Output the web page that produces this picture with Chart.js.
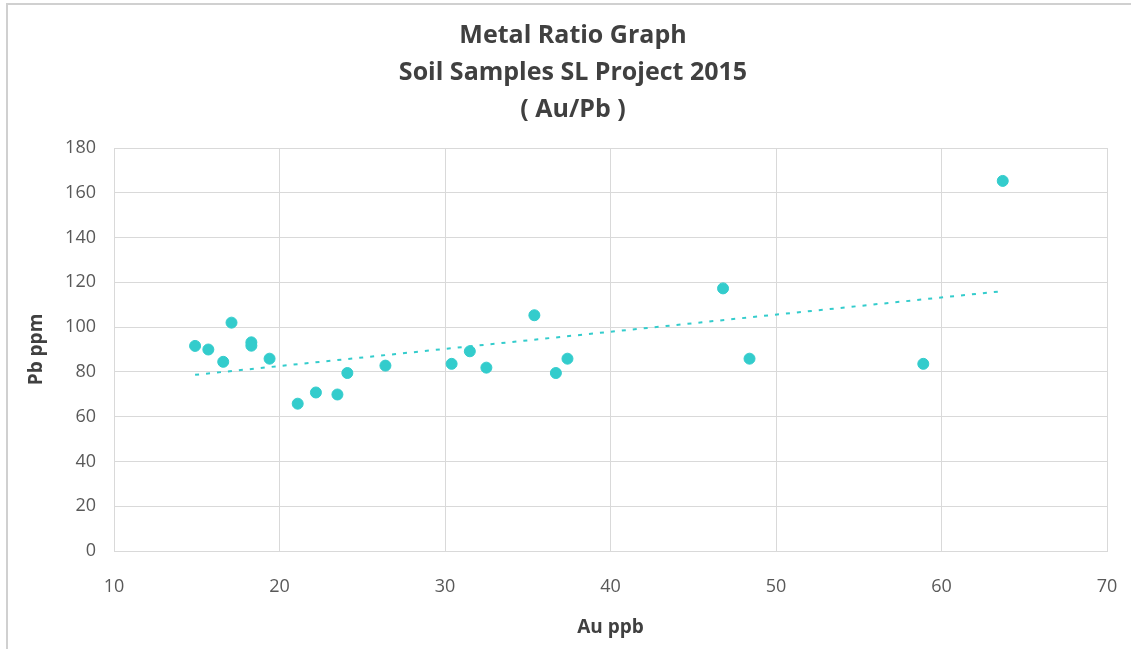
<!DOCTYPE html>
<html>
<head>
<meta charset="utf-8">
<title>Metal Ratio Graph</title>
<script src="https://cdn.jsdelivr.net/npm/chart.js@4.4.1/dist/chart.umd.min.js"></script>
<style>
    html, body { margin: 0; padding: 0; background: #fff; overflow: hidden; }
    #frame {
        position: absolute; left: 6px; top: 3px;
        width: 1140px; height: 660px;
        border: 2px solid #d0d0d0;
    }
    #chart { position: absolute; left: 0; top: 0; }
</style>
</head>
<body>
<div id="frame"></div>
<canvas id="chart" width="1131" height="649"></canvas>
<script>
// soil sample assays
var auPpb = [14.9, 15.7, 16.6, 17.1, 18.3, 18.3, 19.4, 21.1, 22.2, 23.5, 24.1,
             26.4, 30.4, 31.5, 32.5, 35.4, 36.7, 37.4, 46.8, 48.4, 58.9, 63.7];
var pbPpm = [91.6, 90.0, 84.5, 102.0, 93.2, 91.7, 85.9, 65.8, 70.8, 69.9, 79.5,
             82.8, 83.6, 89.2, 81.9, 105.3, 79.5, 85.9, 117.3, 85.9, 83.6, 165.3];

var titleLines = ['Metal Ratio Graph', 'Soil Samples SL Project 2015', '( Au/Pb )'];
var xTicks = [10, 20, 30, 40, 50, 60, 70];
var yTicks = [0, 20, 40, 60, 80, 100, 120, 140, 160, 180];

var teal = '#33CCCC';
var gridColor = '#d9d9d9';

var points = auPpb.map(function (x, i) { return { x: x, y: pbPpm[i] }; });

// least squares trend line over the sampled range
function linearTrend(xs, ys) {
    var n = xs.length, sx = 0, sy = 0, sxy = 0, sxx = 0;
    for (var i = 0; i < n; i++) {
        sx += xs[i]; sy += ys[i];
        sxy += xs[i] * ys[i]; sxx += xs[i] * xs[i];
    }
    var slope = (n * sxy - sx * sy) / (n * sxx - sx * sx);
    var icpt = (sy - slope * sx) / n;
    var lo = Math.min.apply(null, xs), hi = Math.max.apply(null, xs);
    return [{ x: lo, y: icpt + slope * lo }, { x: hi, y: icpt + slope * hi }];
}

var trend = linearTrend(auPpb, pbPpm);

new Chart(document.getElementById('chart'), {
    type: 'scatter',
    data: {
        datasets: [{
            label: 'Pb ppm',
            data: points,
            backgroundColor: teal,
            borderColor: teal,
            pointRadius: 5.5,
            pointHoverRadius: 5.5,
            order: 1
        }, {
            type: 'line',
            label: 'Linear (Pb ppm)',
            data: trend,
            borderColor: teal,
            borderWidth: 2,
            borderDash: [4, 7],
            pointRadius: 0,
            fill: false,
            order: 2
        }]
    },
    options: {
        responsive: false,
        animation: false,
        layout: { padding: { left: 28, right: 13, top: 0, bottom: 0 } },
        plugins: {
            legend: { display: false },
            tooltip: { enabled: false },
            title: {
                display: true,
                text: titleLines,
                color: '#404040',
                font: { family: 'Open Sans', size: 25, weight: 'bold', lineHeight: 1.48 },
                padding: { top: 17, bottom: 20 }
            }
        },
        scales: {
            x: {
                type: 'linear',
                min: 10,
                max: 70,
                afterBuildTicks: function (scale) {
                    scale.ticks = xTicks.map(function (v) { return { value: v }; });
                },
                afterFit: function (scale) {
                    scale.height = 98;
                    // keeps the plot's right edge clear of the last label
                    scale.paddingRight = 24;
                },
                ticks: {
                    color: '#595959',
                    font: { family: 'Open Sans', size: 18 },
                    padding: 25,
                    maxRotation: 0
                },
                grid: { color: gridColor, drawTicks: false },
                border: { color: gridColor },
                title: {
                    display: true,
                    text: 'Au ppb',
                    color: '#404040',
                    font: { family: 'Open Sans', size: 19, weight: 'bold' },
                    padding: { top: 0, bottom: 10 }
                }
            },
            y: {
                type: 'linear',
                min: 0,
                max: 180,
                afterBuildTicks: function (scale) {
                    scale.ticks = yTicks.map(function (v) { return { value: v }; });
                },
                afterFit: function (scale) { scale.width = 86; },
                ticks: {
                    color: '#595959',
                    font: { family: 'Open Sans', size: 18 },
                    padding: 18
                },
                grid: { color: gridColor, drawTicks: false },
                border: { color: gridColor },
                title: {
                    display: true,
                    text: 'Pb ppm',
                    color: '#404040',
                    font: { family: 'Open Sans', size: 19, weight: 'bold', lineHeight: 0.9 },
                    padding: { top: 0, bottom: 0 }
                }
            }
        }
    }
});
</script>
</body>
</html>
